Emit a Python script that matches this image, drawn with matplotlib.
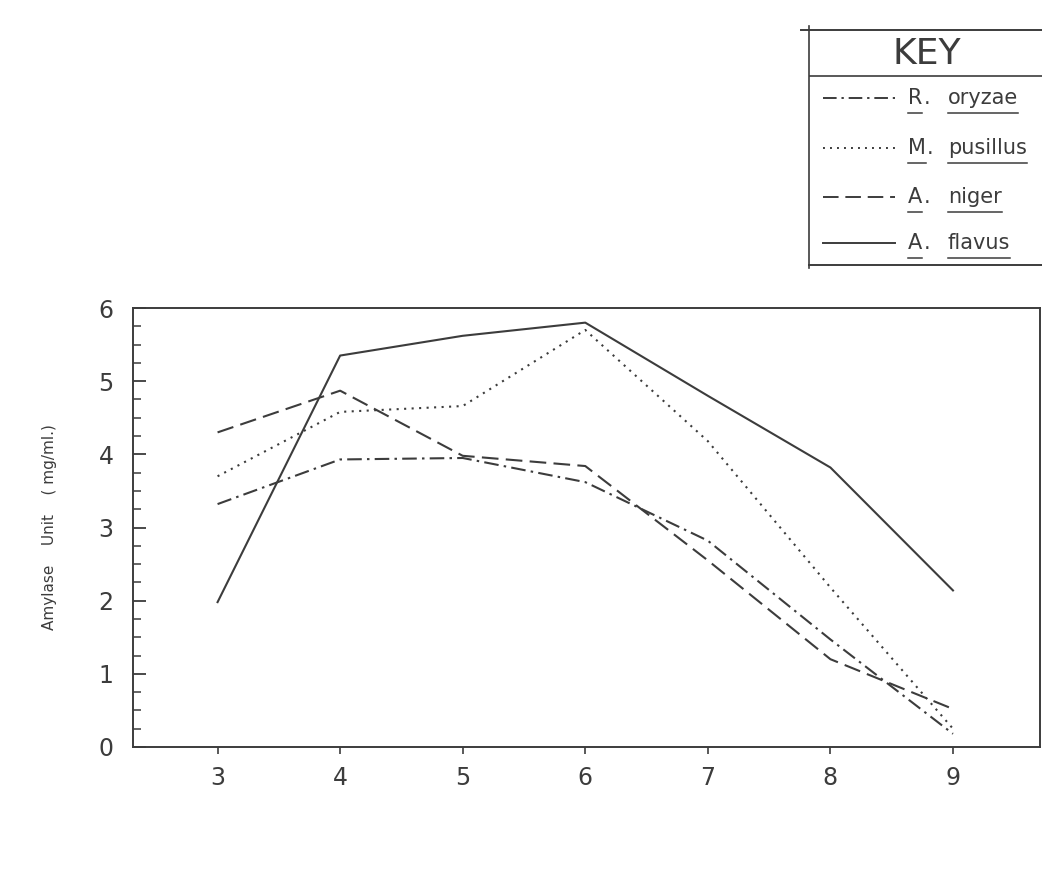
import matplotlib
matplotlib.use("Agg")
import matplotlib.pyplot as plt
from matplotlib.lines import Line2D
import numpy as np

# substrate concentration (%) on x, amylase unit (mg/ml) on y
conc = [3, 4, 5, 6, 7, 8, 9]
r_oryzae = [3.32, 3.93, 3.95, 3.62, 2.82, 1.47, 0.18]
m_pusillus = [3.70, 4.58, 4.66, 5.70, 4.18, 2.18, 0.25]
a_niger = [4.30, 4.87, 3.98, 3.84, 2.55, 1.20, 0.52]
a_flavus = [1.98, 5.35, 5.62, 5.80, 4.80, 3.82, 2.14]

genus = ["R", "M", "A", "A"]
species = ["oryzae", "pusillus", "niger", "flavus"]
series = [r_oryzae, m_pusillus, a_niger, a_flavus]

ink = "#3c3c3c"
styles = [
    dict(dashes=(7, 2.5, 1.2, 2.5)),   # dash-dot
    dict(dashes=(1.0, 2.6)),           # dotted
    dict(dashes=(8, 3.5)),             # dashed
    dict(dashes=()),                   # solid
]

W, H = 1042, 896
fig = plt.figure(figsize=(W / 100, H / 100), dpi=100)
fig.patch.set_facecolor("white")

# main axes, placed in pixels
l, r, t, b = 133, 1040, 308, 747
ax = fig.add_axes([l / W, 1 - b / H, (r - l) / W, (b - t) / H])

for vals, st in zip(series, styles):
    ax.plot(conc, vals, color=ink, lw=1.5, **st)

ax.set_xlim(2.31, 9.71)
ax.set_ylim(0, 6)
ax.set_xticks(conc)
ax.set_yticks(range(0, 7))
ax.set_yticks(np.arange(0, 6.01, 0.25), minor=True)
ax.tick_params(axis="y", which="major", direction="in", length=9, width=1.3,
               color=ink, labelsize=17, labelcolor=ink, pad=14)
ax.tick_params(axis="y", which="minor", direction="in", length=6, width=1.1,
               color=ink)
ax.tick_params(axis="x", which="major", direction="out", length=5, width=1.2,
               color=ink, labelsize=17, labelcolor=ink, pad=9)
for sp in ax.spines.values():
    sp.set_color(ink)
    sp.set_linewidth(1.4)

ax.set_ylabel("Amylase    Unit    ( mg/ml.)", fontsize=11, color=ink, labelpad=30)

# key box in the upper right corner
kl, kt, kb = 809, 30, 265
kax = fig.add_axes([kl / W, 1 - kb / H, (W - kl) / W, (kb - kt) / H])
kax.set_xlim(kl, W)
kax.set_ylim(kb, kt)
kax.axis("off")

kax.plot([kl - 8, W], [kt, kt], color=ink, lw=1.4, clip_on=False)
kax.plot([kl, W], [76, 76], color=ink, lw=1.2)
kax.plot([kl, W], [kb, kb], color=ink, lw=1.4, clip_on=False)
kax.plot([kl, kl], [kt - 4, kb + 3], color=ink, lw=1.2, clip_on=False)
kax.text(927, 54, "KEY", fontsize=26, color=ink, ha="center", va="center")

rows = [98, 148, 197, 243]
fig.canvas.draw()
rend = fig.canvas.get_renderer()
inv = kax.transData.inverted()


def right_edge(txt):
    bb = txt.get_window_extent(renderer=rend)
    return inv.transform((bb.x1, bb.y0))[0]


def underline(txt, y):
    bb = txt.get_window_extent(renderer=rend)
    (x0, _), (x1, _) = inv.transform([(bb.x0, bb.y0), (bb.x1, bb.y0)])
    kax.plot([x0, x1], [y + 15, y + 15], color=ink, lw=1.1, clip_on=False)


for y, st, g, s in zip(rows, styles, genus, species):
    kax.add_line(Line2D([823, 895], [y, y], color=ink, lw=1.4, **st))
    tg = kax.text(908, y, g, fontsize=15, color=ink, ha="left", va="center")
    kax.text(right_edge(tg) + 1, y, ".", fontsize=15, color=ink,
             ha="left", va="center")
    ts = kax.text(948, y, s, fontsize=15, color=ink, ha="left", va="center")
    underline(tg, y)
    underline(ts, y)

fig.savefig("out.png", dpi=100, facecolor="white")
